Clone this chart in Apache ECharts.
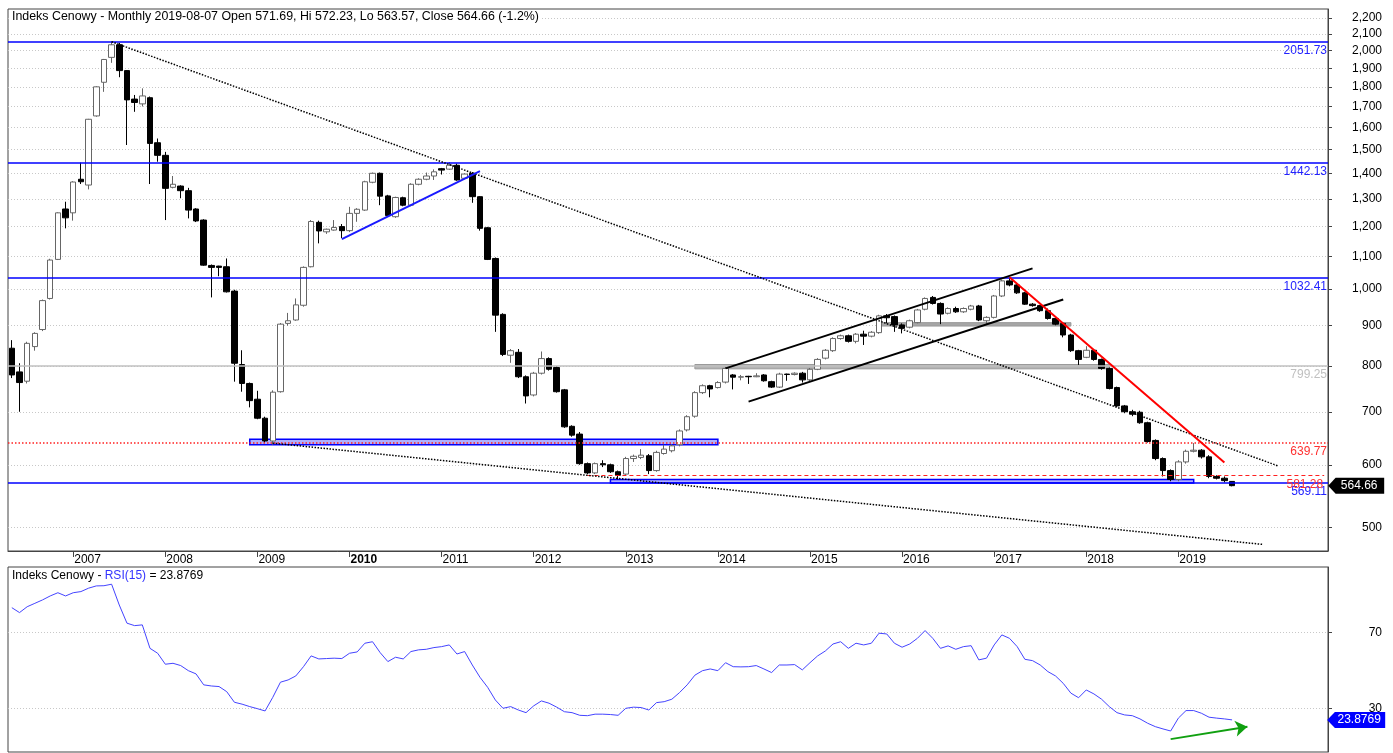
<!DOCTYPE html>
<html>
<head>
<meta charset="utf-8">
<title>Indeks Cenowy - Monthly</title>
<script src="https://cdn.jsdelivr.net/npm/echarts@6/dist/echarts.min.js"></script>
<style>
  html, body { margin: 0; padding: 0; background: #fff; }
  #chart { width: 1393px; height: 753px; }
</style>
</head>
<body>
<div id="chart"></div>
<script>
// monthly candles 2006-05 .. 2019-08, the axis runs on to 2020-08
var firstYear = 2006, firstMonth = 5, monthCount = 172, lastLabelYear = 2019;

var openData = [842,786,765,846,889,973,1090,1262,1248,1376,1353,1654,1824,1961,2034,1887,1737,1713,1744,1530,
  1475,1344,1349,1331,1262,1222,1071,1069,1067,994,803,760,726,687,643,742,905,914,954,1067,
  1214,1181,1187,1199,1185,1246,1258,1364,1400,1311,1234,1304,1276,1356,1376,1389,1419,1417,1433,1380,
  1400,1308,1195,1093,929,825,832,775,735,783,817,796,746,671,656,602,586,602,600,588,
  584,611,613,616,590,620,625,636,664,691,740,755,751,763,779,774,776,775,779,764,
  752,781,780,783,768,792,818,836,866,873,859,877,872,881,925,923,901,895,907,943,
  976,959,932,945,936,943,952,912,921,980,1024,1012,989,957,953,939,918,905,875,836,
  820,837,815,794,751,712,700,699,678,644,611,590,575,605,624,626,614,580,577,571.69];
var highData = [862,806,858,882,970,1092,1250,1289,1368,1444,1640,1803,1952,2053,2045,1890,1758,1792,1750,1549,
  1490,1389,1352,1342,1265,1225,1074,1070,1093,998,837,762,744,690,745,906,933,973,1068,1222,
  1220,1192,1222,1208,1270,1265,1370,1403,1403,1315,1308,1308,1360,1380,1403,1416,1422,1446,1440,1400,
  1405,1310,1198,1096,932,840,840,778,786,834,820,799,748,673,660,604,604,608,602,590,
  614,618,628,619,625,636,637,665,693,743,758,757,765,798,781,779,777,783,781,766,
  784,782,785,786,795,818,840,869,876,876,880,886,885,928,930,926,905,915,944,976,
  980,962,948,950,948,955,955,924,983,1028,1034,1017,992,960,955,945,920,908,878,838,
  847,840,817,796,753,714,704,702,680,646,613,592,608,627,639,628,617,582,580,572.23];
var lowData = [772,700,760,836,885,970,1088,1193,1220,1357,1336,1650,1774,1930,1851,1520,1674,1700,1357,1448,
  1222,1340,1302,1228,1215,1070,976,1038,990,764,742,709,685,640,636,740,899,912,950,1065,
  1142,1174,1185,1160,1180,1216,1255,1360,1276,1235,1230,1272,1272,1352,1372,1373,1395,1414,1370,1376,
  1285,1185,1088,883,823,807,772,717,732,780,789,740,668,651,600,584,584,596,586,575,
  582,605,610,584,588,618,622,633,661,688,737,730,749,760,747,767,759,774,764,750,
  750,766,778,762,765,790,815,833,863,856,854,850,869,878,905,883,879,892,905,940,
  956,903,929,933,933,940,911,903,918,977,1008,986,955,950,936,915,900,869,833,802,
  818,812,791,747,710,697,691,676,640,608,580,572,572,602,622,611,577,575,570,563.57];
var closeData = [779,762,854,879,967,1088,1248,1230,1365,1366,1638,1800,1949,2034,1887,1733,1720,1753,1527,1475,
  1340,1356,1331,1258,1219,1072,1065,1065,992,806,760,723,687,643,741,903,912,955,1065,1217,
  1184,1190,1196,1185,1246,1261,1366,1400,1310,1238,1305,1276,1356,1376,1389,1406,1413,1433,1373,1397,
  1308,1193,1090,927,827,836,775,733,783,817,792,742,670,654,602,586,602,600,588,582,
  611,615,617,590,622,628,634,662,690,740,755,748,762,794,774,775,775,777,766,752,
  781,780,783,768,792,815,837,866,873,859,877,872,882,925,920,901,892,912,941,973,
  959,930,945,936,945,952,914,921,980,1024,1012,989,957,953,939,918,903,875,836,815,
  837,815,794,749,712,700,695,678,642,611,590,575,605,624,626,614,580,577,573,564.66];
var rsiData = [83.2,80.6,83.7,85.5,87.3,89.4,91.1,89.4,91.1,91.7,93.5,94.7,94.8,95.6,84.6,75.0,73.7,74.1,61.7,59.1,
  53.3,53.8,52.6,49.9,48.2,42.4,41.8,41.5,38.8,33.2,32.2,30.9,29.8,28.6,35.8,43.8,45.0,47.1,52.0,57.7,
  56.1,56.3,56.5,56.3,59.1,59.8,64.4,65.2,59.4,54.7,57.0,56.1,60.0,60.9,61.2,62.1,62.6,63.5,58.7,60.0,
  52.9,46.4,41.1,34.4,30.0,30.9,29.1,27.7,31.3,33.9,32.7,30.6,28.2,27.7,26.3,26.1,26.9,26.9,26.7,26.3,
  30.0,30.6,30.4,29.1,33.0,33.5,34.8,38.3,42.4,47.5,49.9,50.8,49.9,54.1,52.0,51.9,52.0,52.6,50.8,48.9,
  52.9,52.9,53.1,50.3,54.1,57.7,60.3,64.0,65.2,61.7,64.4,63.5,64.4,69.7,69.3,64.4,62.3,64.0,67.0,71.1,
  67.0,61.7,63.0,61.2,62.6,63.1,55.6,56.5,63.5,68.8,67.0,62.6,55.9,55.2,52.9,49.4,47.1,43.2,38.0,35.6,
  39.7,37.6,34.8,30.9,27.7,26.5,26.1,24.4,22.1,20.3,19.1,18.0,24.8,28.8,28.8,27.4,25.3,24.8,24.4,23.8769];

var priceTicks = [500,600,700,800,900,1000,1100,1200,1300,1400,1500,1600,1700,1800,1900,2000,2100,2200];
var rsiTicks = [30, 70];

// drawn levels
var blueLevels = [2051.73, 1442.13, 1032.41, 569.11];
var greyLevel = 799.25;
var redDotLevel = 639.77;
var redDashLevel = 581.28;   // starts at index 75
// trend lines: [startIndex, startValue, endIndex, endValue]
var dottedTrends = [[13, 2052, 165, 598], [34, 639, 163, 476]];
var blueTrend = [43, 1156, 61, 1409];
var channelTrends = [[93, 794, 133, 1062], [96, 721, 137, 970]];
var redTrend = [130, 1035, 158, 604];
// zones: [startIndex, topValue, endIndex, bottomValue]
var blueZones = [[31, 646, 92, 636], [78, 575, 154, 569]];
var greyZones = [[89, 803, 143, 793], [113, 907, 138, 898]];
var rsiArrow = [151, 13.7, 161, 20.3];

var FONT = 'Liberation Sans, Arial, sans-serif';

var months = [];
for (var i = 0; i < monthCount; i++) {
  var m = firstMonth - 1 + i;
  var yy = firstYear + Math.floor(m / 12);
  var mm = m % 12 + 1;
  months.push(yy + '-' + (mm < 10 ? '0' + mm : mm));
}
var candles = openData.map(function (o, i) {
  return [o, closeData[i], lowData[i], highData[i]];
});

function isJan(idx, val) {
  return val.slice(5) === '01' && +val.slice(0, 4) <= lastLabelYear;
}
function seg(t, style) {
  return [{ coord: [t[0], t[1]], lineStyle: style }, { coord: [t[2], t[3]] }];
}
function levelLabel(txt, color) {
  return { show: true, position: 'insideEndBottom', formatter: txt, color: color,
           fontSize: 12, fontFamily: FONT, distance: [1, 3] };
}

var markLines = [];
var blueLine = { color: '#0000ff', width: 1.5, type: 'solid' };
blueLevels.forEach(function (v) {
  markLines.push({ yAxis: v, lineStyle: blueLine, label: levelLabel(String(v), '#2222ff') });
});
markLines.push({ yAxis: greyLevel, lineStyle: { color: '#c0c0c0', width: 1.5, type: 'solid' },
                 label: levelLabel(String(greyLevel), '#c0c0c0') });
markLines.push({ yAxis: redDotLevel, lineStyle: { color: '#ff2020', width: 1.5, type: [1.5, 2] },
                 label: levelLabel(String(redDotLevel), '#ff3030') });
markLines.push([{ coord: [75, redDashLevel], lineStyle: { color: '#ff2020', width: 1, type: [4, 3] },
                  label: levelLabel(String(redDashLevel), '#ff3030') },
                { coord: [monthCount - 1, redDashLevel] }]);
dottedTrends.forEach(function (t) {
  markLines.push(seg(t, { color: '#000', width: 1.5, type: [1.5, 1.5] }));
});
markLines.push(seg(blueTrend, { color: '#1a1aff', width: 2, type: 'solid' }));
channelTrends.forEach(function (t) {
  markLines.push(seg(t, { color: '#000', width: 2, type: 'solid' }));
});
markLines.push(seg(redTrend, { color: '#ff0000', width: 2, type: 'solid' }));

var markAreas = [];
blueZones.forEach(function (z) {
  markAreas.push([{ coord: [z[0], z[1]], itemStyle: { color: 'rgba(110,110,255,0.55)', borderColor: '#0000ff', borderWidth: 1.5 } },
                  { coord: [z[2], z[3]] }]);
});
greyZones.forEach(function (z, k) {
  markAreas.push([{ coord: [z[0], z[1]], itemStyle: { color: k === 0 ? '#b4b4b4' : '#a6a6a6', borderColor: '#999', borderWidth: 1 } },
                  { coord: [z[2], z[3]] }]);
});

var chart = echarts.init(document.getElementById('chart'));
var option = {
  animation: false,
  backgroundColor: '#fff',
  textStyle: { fontFamily: FONT },
  title: [
    {
      text: 'Indeks Cenowy - Monthly 2019-08-07 Open 571.69, Hi 572.23, Lo 563.57, Close 564.66 (-1.2%)',
      left: 9, top: 10, padding: [1, 3, 2, 3], backgroundColor: '#fff',
      textStyle: { fontSize: 12.4, fontWeight: 'normal', color: '#000', fontFamily: FONT }
    },
    {
      text: '{a|Indeks Cenowy - }{b|RSI(15)}{a| = 23.8769}',
      left: 9, top: 568, padding: [2, 3, 2, 3],
      textStyle: {
        fontSize: 12, fontWeight: 'normal', fontFamily: FONT,
        rich: {
          a: { fontSize: 12, color: '#000', fontFamily: FONT },
          b: { fontSize: 12, color: '#3333ff', fontFamily: FONT }
        }
      }
    }
  ],
  grid: [
    { left: 8, top: 9, width: 1320, height: 542, show: true, borderColor: '#444', borderWidth: 1 },
    { left: 8, top: 567, width: 1320, height: 185, show: true, borderColor: '#444', borderWidth: 1 }
  ],
  xAxis: [
    {
      type: 'category', gridIndex: 0, data: months, boundaryGap: true,
      axisLine: { show: true, lineStyle: { color: '#444' } },
      axisTick: { show: true, alignWithLabel: true, interval: isJan, length: 6, lineStyle: { color: '#444' } },
      axisLabel: {
        interval: isJan, align: 'left', margin: 3, padding: [0, 0, 0, 1],
        fontSize: 12, color: '#000', fontFamily: FONT,
        formatter: function (val) {
          var y = val.slice(0, 4);
          return y === '2010' ? '{b|' + y + '}' : y;
        },
        rich: { b: { fontWeight: 'bold', fontSize: 12, color: '#000', fontFamily: FONT } }
      },
      splitLine: { show: false }
    },
    {
      type: 'category', gridIndex: 1, data: months, boundaryGap: true,
      axisLine: { show: false }, axisTick: { show: false }, axisLabel: { show: false },
      splitLine: { show: false }
    }
  ],
  yAxis: [
    {
      type: 'log', gridIndex: 0, position: 'right', logBase: 10, min: 467, max: 2257,
      axisLine: { show: true, lineStyle: { color: '#444' } },
      axisTick: { show: true, customValues: priceTicks, length: 4, lineStyle: { color: '#444' } },
      axisLabel: {
        customValues: priceTicks, align: 'right', margin: 54,
        fontSize: 12, color: '#000', fontFamily: FONT,
        formatter: function (v) { return String(Math.round(v)).replace(/\B(?=(\d{3})+(?!\d))/g, ','); }
      },
      splitLine: { show: true, lineStyle: { color: '#c8c8c8', type: [1, 2] } }
    },
    {
      type: 'value', gridIndex: 1, position: 'right', min: 6.9, max: 104.7,
      axisLine: { show: true, lineStyle: { color: '#444' } },
      axisTick: { show: true, customValues: rsiTicks, length: 4, lineStyle: { color: '#444' } },
      axisLabel: { customValues: rsiTicks, align: 'right', margin: 54, fontSize: 12, color: '#000', fontFamily: FONT },
      splitLine: { show: true, lineStyle: { color: '#c8c8c8', type: [1, 2] } }
    }
  ],
  series: [
    {
      name: 'Indeks Cenowy', type: 'candlestick', xAxisIndex: 0, yAxisIndex: 0,
      data: candles, barWidth: 6,
      itemStyle: { color: '#ffffff', color0: '#000000', borderColor: '#666', borderColor0: '#000', borderWidth: 1 },
      markArea: { silent: true, data: markAreas },
      markLine: { silent: true, symbol: 'none', animation: false, label: { show: false }, data: markLines },
      markPoint: {
        silent: true,
        symbol: 'path://M0,8 L8,0 L60,0 L60,16 L8,16 Z', symbolKeepAspect: false,
        symbolSize: [56, 16], symbolOffset: [32, 0],
        itemStyle: { color: '#000' },
        label: { show: true, position: 'inside', formatter: '564.66', color: '#fff', fontSize: 12, fontFamily: FONT, offset: [3, 0] },
        data: [{ coord: [monthCount - 1, closeData[closeData.length - 1]] }]
      }
    },
    {
      name: 'RSI(15)', type: 'line', xAxisIndex: 1, yAxisIndex: 1,
      data: rsiData, showSymbol: false, symbol: 'none',
      lineStyle: { color: '#4444ff', width: 1 },
      markLine: {
        silent: true, symbol: ['none', 'arrow'], symbolSize: 12, label: { show: false },
        data: [seg(rsiArrow, { color: '#10a010', width: 2, type: 'solid' })]
      },
      markPoint: {
        silent: true,
        symbol: 'path://M0,8 L8,0 L60,0 L60,16 L8,16 Z', symbolKeepAspect: false,
        symbolSize: [58, 16], symbolOffset: [32, 0],
        itemStyle: { color: '#0000ff' },
        label: { show: true, position: 'inside', formatter: '23.8769', color: '#fff', fontSize: 12, fontFamily: FONT, offset: [3, 0] },
        data: [{ coord: [monthCount - 1, rsiData[rsiData.length - 1]] }]
      }
    }
  ]
};
chart.setOption(option);
</script>
</body>
</html>
